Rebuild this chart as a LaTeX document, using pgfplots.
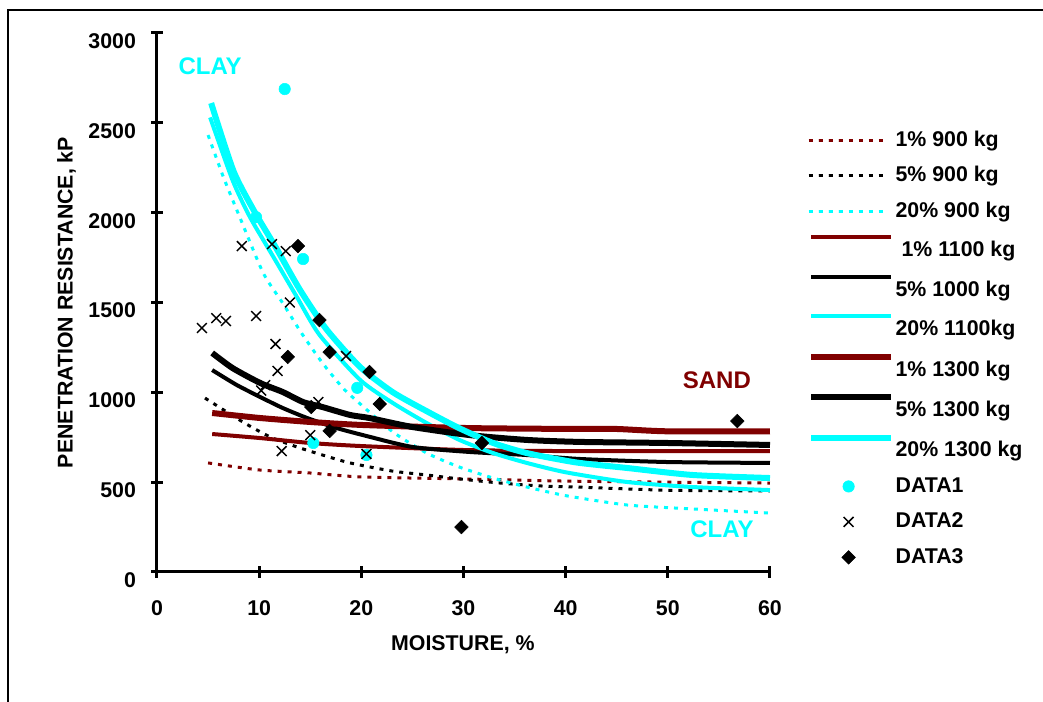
\documentclass[border=0pt]{standalone}
\usepackage{pgfplots}
\pgfplotsset{compat=1.18}
\usepackage{fontspec}
\setmainfont{Liberation Sans}
\definecolor{maroon}{HTML}{800000}
\definecolor{aqua}{HTML}{00FFFF}
\pgfplotsset{
  dotline/.style={line width=2.25pt, dash pattern=on 3pt off 4.5pt, line cap=butt, mark=none, smooth, tension=0.4},
  medline/.style={line width=3pt, mark=none, smooth, tension=0.4, line join=round,
     legend image code/.code={\draw[##1] (2pt,10pt) -- (62pt,10pt);}},
  thkline/.style={line width=4.5pt, mark=none, smooth, tension=0.4, line join=round,
     legend image code/.code={\draw[##1] (2pt,10pt) -- (62pt,10pt);}},
}
\begin{document}
\begin{tikzpicture}
\path[use as bounding box] (-117.75pt,-97.5pt) rectangle (664.5pt,429pt);
\draw[line width=1.2pt] (-111.75pt,-97.5pt) -- (-111.75pt,421.5pt) -- (664.5pt,421.5pt);
\begin{axis}[
  scale only axis, width=459.75pt, height=404.25pt,
  xmin=0, xmax=60, ymin=0, ymax=3000,
  axis x line*=bottom, axis y line*=left,
  axis line style={line width=2.25pt},
  xtick={0,10,...,60}, ytick={0,500,...,3000},
  tick align=center, major tick length=8.5pt,
  tick style={line width=2.25pt, black},
  /pgf/number format/assume math mode=true,
  /pgf/number format/1000 sep={},
  ticklabel style={font=\bfseries\fontsize{16}{19}\selectfont},
  xticklabel style={yshift=-14pt},
  yticklabel style={yshift=-6pt, xshift=-8pt},
  xlabel={MOISTURE, \%}, ylabel={PENETRATION RESISTANCE, kP},
  label style={font=\bfseries\fontsize{16}{19}\selectfont},
  x label style={at={(axis description cs:0.499,-0.1354)}, anchor=center},
  y label style={at={(axis description cs:-0.1476,0.5)}, rotate=0, anchor=center},
  clip=false,
  legend image code/.code={\draw[mark repeat=2,mark phase=2,#1] plot coordinates {(0pt,0pt)(30pt,0pt)(60pt,0pt)};},
  legend cell align=left,
  legend style={draw=none, fill=none, at={(1.0536,0.8275)}, anchor=north west,
     font=\bfseries\fontsize{16}{19}\selectfont, row sep=9.6pt,
     nodes={inner sep=1pt, text height=12pt, text depth=3pt}},
]
% 1% 900 kg
\addplot[dotline, color=maroon] coordinates {
(5.0,607) (10,568) (15,551) (20,529) (30,518) (40,506) (50,500) (60,495)};
\addlegendentry{1\% 900 kg}
% 5% 900 kg
\addplot[dotline, color=black] coordinates {
(4.7,968) (8.4,835) (11.1,751) (13.7,696) (16.2,651) (18.9,607) (23,562) (26.4,540) (29.6,518) (33.6,495) (37.5,479) (41,473) (50,455) (60,451)};
\addlegendentry{5\% 900 kg}
% 20% 900 kg
\addplot[dotline, color=aqua] coordinates {
(5.0,2432) (6.5,2198) (8.1,1975) (10.4,1664) (12.3,1497) (14.2,1325) (16.2,1163) (18.2,1024) (19.9,935) (23.1,779) (26.4,662) (29.6,584) (32.9,523) (36.2,473) (40,425) (46,373) (52.4,351) (60,328)};
\addlegendentry{20\% 900 kg}
% 1% 1100 kg
\addplot[medline, color=maroon] coordinates {
(5.4,768) (10,746) (15,718) (20,701) (30,679) (40,673) (50,673) (60,673)};
\addlegendentry{\ 1\% 1100 kg}
% 5% 1000 kg
\addplot[medline, color=black] coordinates {
(5.4,1124) (7.8,1041) (10.1,974) (12.3,913) (14.7,857) (17.6,801) (20.5,757) (25,696) (30.6,668) (36.2,651) (41.4,629) (50,612) (60,607)};
\addlegendentry{5\% 1000 kg}
% 20% 1100 kg
\addplot[medline, color=aqua] coordinates {
(5.2,2530) (7.4,2180) (9.1,1975) (11.4,1753) (13.7,1530) (15.9,1320) (19.9,1068) (23.1,940) (26.4,829) (29.6,735) (32.9,662) (36.2,607) (40,555) (46,501) (52.4,473) (60,456)};
\addlegendentry{20\% 1100kg}
% 1% 1300 kg
\addplot[thkline, color=maroon] coordinates {
(5.4,885) (10.1,857) (15,835) (20.2,818) (30.6,801) (41.4,796) (45,796) (50,783) (60,783)};
\addlegendentry{1\% 1300 kg}
% 5% 1300 kg
\addplot[thkline, color=black] coordinates {
(5.4,1219) (7.4,1135) (10.1,1052) (12.3,1002) (14.3,946) (16.2,918) (18.9,874) (20.8,857) (25,807) (30.6,762) (36.2,735) (41.4,724) (50,718) (60,707)};
\addlegendentry{5\% 1300 kg}
% 20% 1300 kg
\addplot[thkline, color=aqua] coordinates {
(5.3,2610) (7.5,2230) (9.6,2000) (11.7,1800) (14,1570) (16.6,1350) (19.9,1140) (23.1,1000) (26.4,895) (29.6,800) (32.9,718) (36.2,662) (41,610) (46,579) (52.4,540) (60,523)};
\addlegendentry{20\% 1300 kg}
% DATA1
\addplot[only marks, mark=*, mark size=4.3pt, color=aqua] coordinates {
(12.5,2688) (9.7,1975) (14.3,1742) (19.6,1025) (15.3,718) (20.5,651)};
\addlegendentry{DATA1}
% DATA2
\addplot[only marks, mark=x, mark size=5.2pt, color=black, mark options={line width=1.1pt}] coordinates {
(4.4,1358) (5.8,1413) (6.75,1397) (9.7,1425) (11.6,1269) (11.8,1119) (10.2,1010) (10.6,1040) (15.8,946) (15.0,762) (12.2,673) (18.5,1202) (20.5,657) (13.0,1500) (8.3,1814) (11.25,1825) (12.6,1786)};
\addlegendentry{DATA2}
% DATA3
\addplot[only marks, mark=square*, mark size=3.6pt, color=black, mark options={rotate=45}] coordinates {
(13.8,1814) (15.9,1402) (16.9,1224) (12.8,1197) (20.8,1113) (21.8,935) (15.1,918) (16.9,785) (31.8,718) (29.8,250) (56.8,840)};
\addlegendentry{DATA3}
\node[text=aqua, font=\bfseries\fontsize{18}{21}\selectfont] at (axis cs:5.2,2816) {CLAY};
\node[text=aqua, font=\bfseries\fontsize{18}{21}\selectfont] at (axis cs:55.3,239) {CLAY};
\node[text=maroon, font=\bfseries\fontsize{18}{21}\selectfont] at (axis cs:54.8,1066) {SAND};
\end{axis}
\end{tikzpicture}
\end{document}
